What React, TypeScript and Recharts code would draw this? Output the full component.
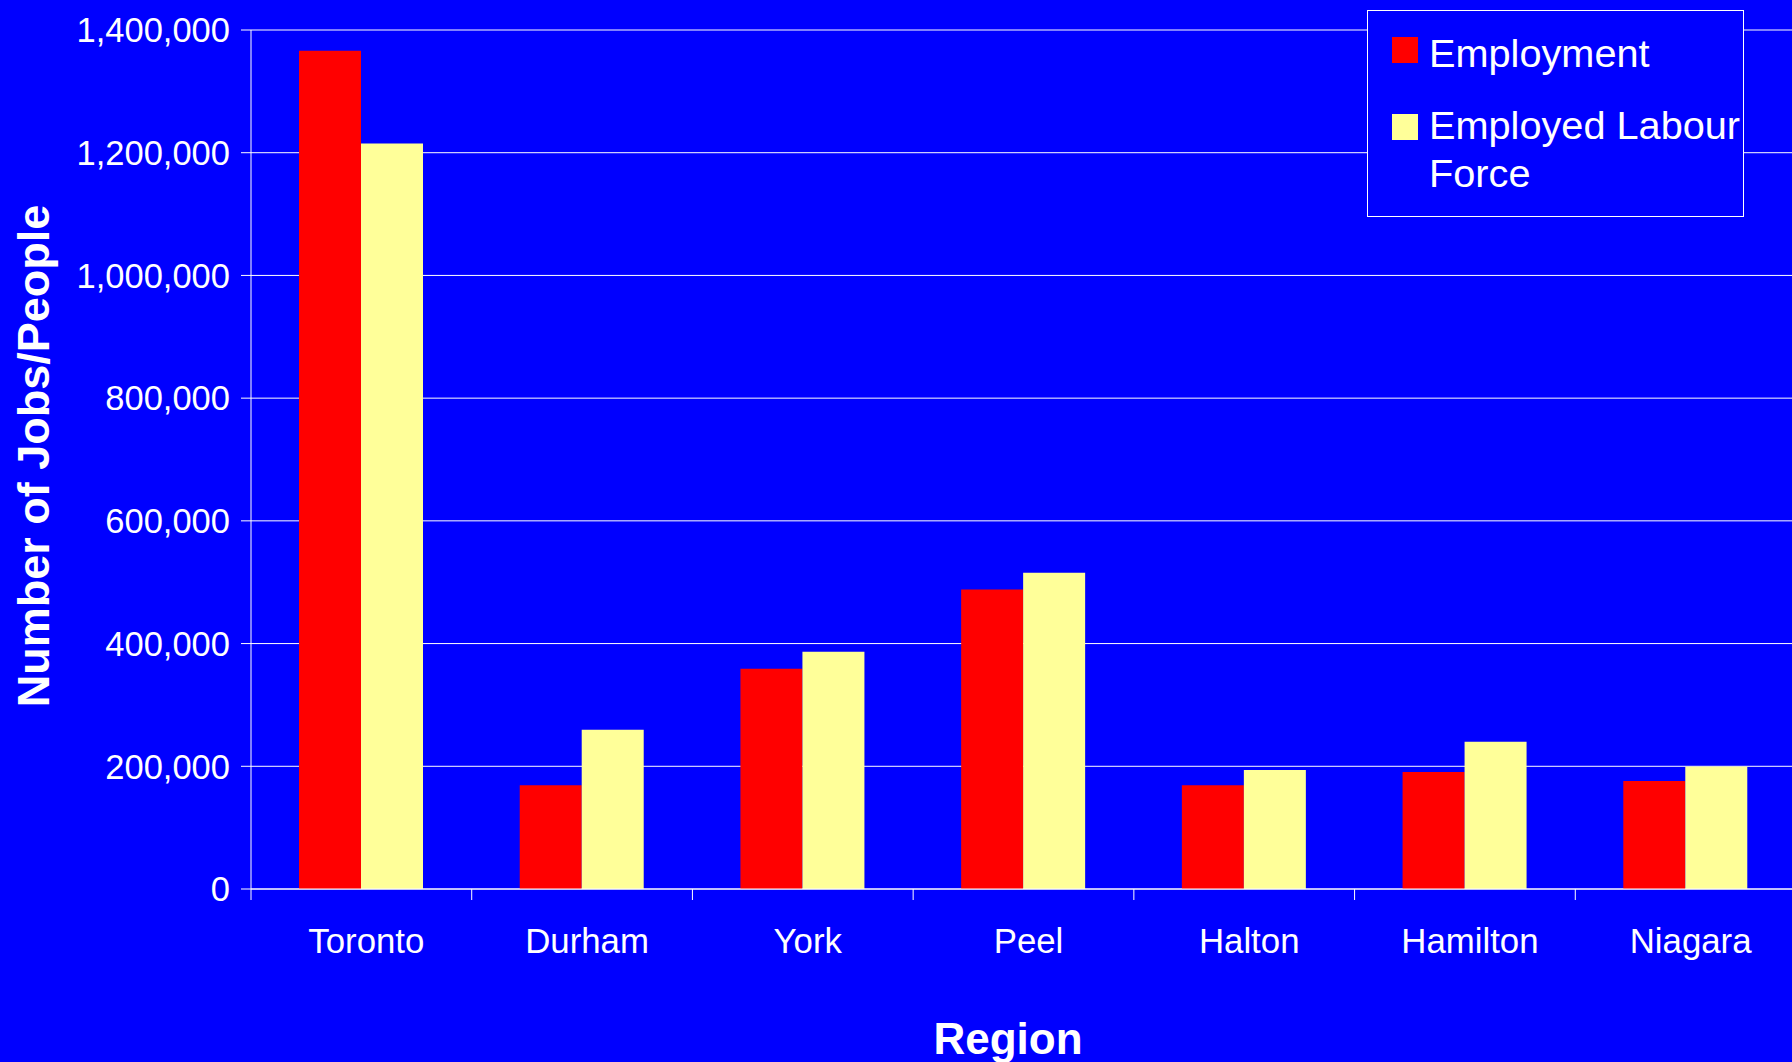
import React from 'react';
import { BarChart, Bar, XAxis, YAxis, CartesianGrid, Legend, Label } from 'recharts';

const categories = ['Toronto', 'Durham', 'York', 'Peel', 'Halton', 'Hamilton', 'Niagara'];
const employment = [1366000, 169000, 359000, 488000, 169000, 190500, 176000];
const employedLabourForce = [1215000, 259500, 386500, 515500, 194000, 240000, 199500];
const yTicks = [0, 200000, 400000, 600000, 800000, 1000000, 1200000, 1400000];
const seriesOrder = ['employment', 'elf'];

const data = categories.map((region, i) => ({
  region,
  employment: employment[i],
  elf: employedLabourForce[i],
}));

const FONT = '"Liberation Sans", Arial, Helvetica, sans-serif';
const BG = '#0000FF';
const W = 1796;
const H = 1062;
const PLOT_LEFT = 251;
const AXIS_Y = 889;
const BAND = (W - PLOT_LEFT) / categories.length;

const fmt = (v: number) => v.toLocaleString('en-US');

const XTick = (props: any) => {
  const { x, payload } = props;
  return (
    <g>
      <line x1={x - BAND / 2} x2={x - BAND / 2} y1={AXIS_Y} y2={AXIS_Y + 11} stroke="#FFFFFF" strokeWidth={1} />
      <text x={x + 5} y={953} textAnchor="middle" fill="#FFFFFF" fontSize={34.8} fontFamily={FONT}>
        {payload.value}
      </text>
    </g>
  );
};

const YTitle = () => (
  <text
    x={49}
    y={456}
    transform="rotate(-90, 49, 456)"
    textAnchor="middle"
    fill="#FFFFFF"
    fontSize={45}
    fontWeight="bold"
    fontFamily={FONT}
  >
    Number of Jobs/People
  </text>
);

const XTitle = () => (
  <text x={1008} y={1054} textAnchor="middle" fill="#FFFFFF" fontSize={44} fontWeight="bold" fontFamily={FONT}>
    Region
  </text>
);

const LegendBox = (props: any) => {
  const payload = [...(props.payload || [])].sort(
    (a: any, b: any) => seriesOrder.indexOf(a.dataKey) - seriesOrder.indexOf(b.dataKey)
  );
  const tops = [
    { sq: 27, txt: 19 },
    { sq: 104, txt: 91.5 },
  ];
  return (
    <div
      style={{
        position: 'relative',
        width: 377,
        height: 207,
        boxSizing: 'border-box',
        border: '1px solid #FFFFFF',
        background: BG,
        fontFamily: FONT,
        color: '#FFFFFF',
      }}
    >
      {payload.map((p: any, i: number) => (
        <React.Fragment key={p.value}>
          <div
            style={{
              position: 'absolute',
              left: 24,
              top: tops[i].sq - 1,
              width: 26,
              height: 26,
              background: p.color,
            }}
          />
          <div
            style={{
              position: 'absolute',
              left: 61,
              top: tops[i].txt - 1.5,
              width: 314,
              fontSize: 39.7,
              lineHeight: '48px',
              whiteSpace: 'normal',
            }}
          >
            {p.value}
          </div>
        </React.Fragment>
      ))}
    </div>
  );
};

export default function App() {
  return (
    <div
      style={{
        position: 'absolute',
        left: 0,
        top: 0,
        width: 1792,
        height: 1062,
        background: BG,
        overflow: 'hidden',
      }}
    >
      <BarChart
        width={W}
        height={H}
        data={data}
        margin={{ top: 30, right: 0, bottom: 0, left: 0 }}
        barGap={0}
        barSize={62}
      >
        <CartesianGrid horizontal vertical={false} stroke="#FFFFFF" strokeWidth={1} />
        <XAxis
          dataKey="region"
          height={H - AXIS_Y}
          axisLine={{ stroke: '#FFFFFF', strokeWidth: 1 }}
          tickLine={false}
          tick={<XTick />}
          interval={0}
        >
          <Label content={<XTitle />} />
        </XAxis>
        <YAxis
          width={PLOT_LEFT}
          domain={[0, 1400000]}
          ticks={yTicks}
          tickFormatter={fmt}
          axisLine={{ stroke: '#FFFFFF', strokeWidth: 1 }}
          tickLine={{ stroke: '#FFFFFF', strokeWidth: 1 }}
          tickSize={10}
          tickMargin={11}
          tick={{ fill: '#FFFFFF', fontSize: 34.5, fontFamily: FONT }}
          interval={0}
        >
          <Label content={<YTitle />} />
        </YAxis>
        <Legend
          layout="vertical"
          align="center"
          verticalAlign="middle"
          content={<LegendBox />}
          wrapperStyle={{ position: 'absolute', left: 1367, top: 10, width: 377, height: 207 }}
        />
        <Bar dataKey="employment" name="Employment" fill="#FF0000" isAnimationActive={false} />
        <Bar dataKey="elf" name="Employed Labour Force" fill="#FFFF99" isAnimationActive={false} />
      </BarChart>
    </div>
  );
}
